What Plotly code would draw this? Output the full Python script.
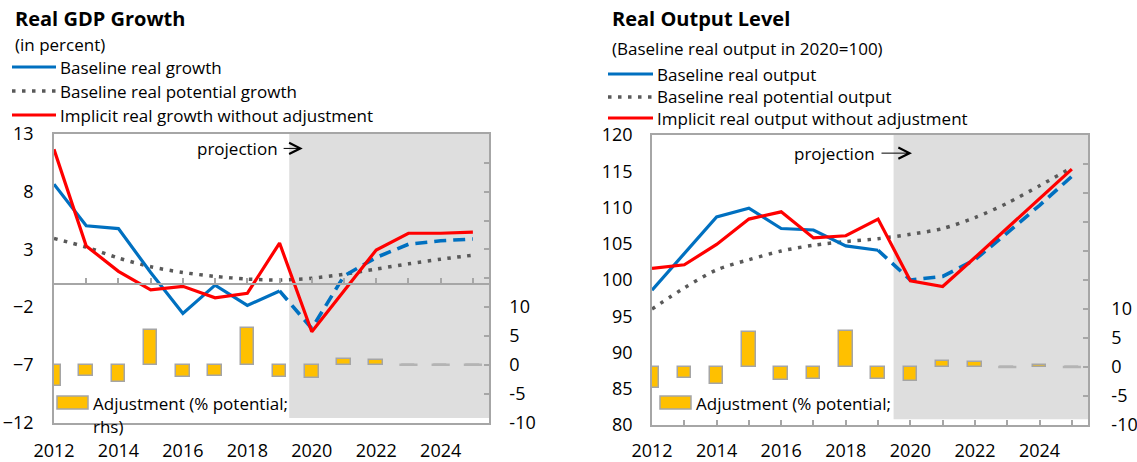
import plotly.graph_objects as go

# ---------------- data ----------------
years = list(range(2012, 2026))
hist_years = list(range(2012, 2020))
proj_years = list(range(2019, 2026))
label_years = list(range(2012, 2025, 2))

# Left chart: Real GDP growth (in percent)
growth_baseline_hist = [8.65, 5.05, 4.8, 1.0, -2.55, -0.1, -1.85, -0.6]
growth_baseline_proj = [-0.6, -3.85, 0.7, 2.3, 3.45, 3.75, 3.9]
growth_potential = [3.95, 3.2, 2.25, 1.5, 1.0, 0.66, 0.43, 0.35, 0.5, 0.85, 1.3, 1.75, 2.15, 2.5]
growth_implicit = [11.67, 3.3, 1.1, -0.5, -0.2, -1.2, -0.8, 3.55, -4.13, -0.55, 2.95, 4.4, 4.4, 4.5]
adjustment_growth = [-3.6, -2.0, -3.0, 6.0, -2.2, -1.9, 6.3, -2.2, -2.3, 1.0, 0.8, 0.0, 0.0, 0.0]

# Right chart: Real output level (baseline real output in 2020 = 100)
output_baseline_hist = [98.6, 103.7, 108.7, 109.9, 107.1, 106.9, 104.7, 104.1]
output_baseline_proj = [104.1, 100.0, 100.5, 102.8, 106.5, 110.3, 114.3]
output_potential = [96.0, 98.9, 101.4, 102.8, 104.0, 104.8, 105.3, 105.7, 106.3, 107.1, 108.6, 110.6, 113.0, 115.5]
output_implicit = [101.6, 102.1, 104.9, 108.4, 109.4, 105.8, 106.1, 108.4, 99.9, 99.1, 103.1, 107.2, 111.2, 115.3]
adjustment_level = [-3.7, -1.9, -3.0, 6.0, -2.2, -2.0, 6.2, -2.0, -2.4, 1.1, 0.8, 0.0, 0.3, 0.0]

left_ticks = [-12, -7, -2, 3, 8, 13]
right_ticks = list(range(80, 121, 5))
rhs_ticks = list(range(-10, 41, 5))
rhs_labels = [str(v) if v <= 10 else "" for v in rhs_ticks]

left_title = "Real GDP Growth"
left_sub = "(in percent)"
left_legend = ["Baseline real growth", "Baseline real potential growth",
               "Implicit real growth without adjustment"]
right_title = "Real Output Level"
right_sub = "(Baseline real output in 2020=100)"
right_legend = ["Baseline real output", "Baseline real potential output",
                "Implicit real output without adjustment"]
bar_legend = "Adjustment (% potential;"
bar_legend2 = "rhs)"

# ---------------- styles ----------------
FONT = "Open Sans"
BLUE = "#0070C0"
RED = "#FF0000"
DOTC = "#595959"
GOLD = "#FFC000"
BARLINE = "#A5A5A5"
AXC = "#A6A6A6"
SHADE = "#DEDEDE"
W, H = 1137, 462
LW = 3.2
DOT_DASH = "3.5px,6.5px"
LONG_DASH = "12px,7px"


def px(x):
    return x / W


def py(y):
    return 1 - y / H


# plot areas (pixels)
L_X0, L_X1, L_Y0, L_Y1 = 54, 489, 134, 422.5
R_X0, R_X1, R_Y0, R_Y1 = 652, 1088, 135, 425
XR = [2012, 2025.5]
LY_R = [-12, 13]
RY_R = [80, 120]
RHS_R = [-10, 40]

fig = go.Figure()


def add_chart(xa, ya, ya2, pot, bh, bp, imp, adj):
    fig.add_trace(go.Bar(x=years, y=adj, xaxis=xa, yaxis=ya2, width=0.42,
                         marker=dict(color=GOLD, line=dict(color=BARLINE, width=1.5)),
                         showlegend=False, hoverinfo="skip"))
    zx = [yr for yr, v in zip(years, adj) if v == 0]
    zy = [v for v in adj if v == 0]
    fig.add_trace(go.Scatter(x=zx, y=zy, xaxis=xa, yaxis=ya2, mode="markers",
                             marker=dict(symbol="line-ew", size=13,
                                         line=dict(color="#B4B4B4", width=2.5)),
                             showlegend=False, hoverinfo="skip"))
    fig.add_trace(go.Scatter(x=years, y=pot, xaxis=xa, yaxis=ya, mode="lines",
                             line=dict(color=DOTC, width=3.5, dash=DOT_DASH,
                                       shape="spline", smoothing=0.8),
                             showlegend=False, hoverinfo="skip"))
    fig.add_trace(go.Scatter(x=hist_years, y=bh, xaxis=xa, yaxis=ya, mode="lines",
                             line=dict(color=BLUE, width=LW), showlegend=False,
                             hoverinfo="skip"))
    fig.add_trace(go.Scatter(x=proj_years, y=bp, xaxis=xa, yaxis=ya, mode="lines",
                             line=dict(color=BLUE, width=3.6, dash=LONG_DASH),
                             showlegend=False, hoverinfo="skip"))
    fig.add_trace(go.Scatter(x=years, y=imp, xaxis=xa, yaxis=ya, mode="lines",
                             line=dict(color=RED, width=LW), showlegend=False,
                             hoverinfo="skip"))


add_chart("x", "y", "y2", growth_potential, growth_baseline_hist,
          growth_baseline_proj, growth_implicit, adjustment_growth)
add_chart("x2", "y3", "y4", output_potential, output_baseline_hist,
          output_baseline_proj, output_implicit, adjustment_level)

# invisible trace to carry the zero-line axis of the left chart
fig.add_trace(go.Scatter(x=years, y=[0] * len(years), xaxis="x3", yaxis="y",
                         mode="markers", marker=dict(opacity=0), showlegend=False,
                         hoverinfo="skip"))

ldom_y = [py(L_Y1), py(L_Y0)]
rdom_y = [py(R_Y1), py(R_Y0)]
zero_pos = ldom_y[0] + (0 - LY_R[0]) / (LY_R[1] - LY_R[0]) * (ldom_y[1] - ldom_y[0])

tickfont = dict(family=FONT, size=18, color="#000000")
common = dict(showgrid=False, zeroline=False, linecolor=AXC, linewidth=1.5,
              tickcolor=AXC, tickwidth=1.5, tickfont=tickfont, automargin=False)

fig.update_layout(
    width=W, height=H, margin=dict(l=0, r=0, t=0, b=0, autoexpand=False),
    paper_bgcolor="white", plot_bgcolor="white", showlegend=False,
    bargap=0, font=dict(family=FONT),
    xaxis=dict(domain=[px(L_X0), px(L_X1)], range=XR, anchor="y",
               tickvals=label_years, ticks="", showline=True, mirror=True,
               ticklabelstandoff=11, **common),
    xaxis3=dict(overlaying="x", anchor="free", position=zero_pos, range=XR,
                tickvals=years, ticks="inside", ticklen=5, showticklabels=False,
                showline=True, **common),
    yaxis=dict(domain=ldom_y, range=LY_R, tickvals=left_ticks, ticks="",
               showline=True, anchor="x", ticklabelstandoff=15, **common),
    yaxis2=dict(overlaying="y", side="right", anchor="x", range=RHS_R,
                tickvals=rhs_ticks, ticktext=rhs_labels, ticks="inside",
                ticklen=5, showline=True, ticklabelstandoff=15, **common),
    xaxis2=dict(domain=[px(R_X0), px(R_X1)], range=XR, anchor="y3",
                tickvals=years, ticktext=[str(y) if y % 2 == 0 else "" for y in years],
                ticks="inside", ticklen=5, showline=True, mirror=True,
                ticklabelstandoff=9, **common),
    yaxis3=dict(domain=rdom_y, range=RY_R, tickvals=right_ticks, ticks="",
                showline=True, anchor="x2", ticklabelstandoff=14, **common),
    yaxis4=dict(overlaying="y3", side="right", anchor="x2", range=RHS_R,
                tickvals=rhs_ticks, ticktext=rhs_labels, ticks="inside",
                ticklen=5, showline=True, ticklabelstandoff=18, **common),
)

# projection shading
fig.add_shape(type="rect", xref="x", yref="y", x0=2019.3, x1=XR[1], y0=-11.6, y1=LY_R[1],
              fillcolor=SHADE, line=dict(width=0), layer="below")
fig.add_shape(type="rect", xref="x2", yref="y3", x0=2019.48, x1=XR[1], y0=80.8, y1=RY_R[1],
              fillcolor=SHADE, line=dict(width=0), layer="below")

anns = []


def text(x, y, s, size=17, bold=False, xanchor="left"):
    anns.append(dict(x=px(x), y=py(y), xref="paper", yref="paper", text=(f"<b>{s}</b>" if bold else s),
                     showarrow=False, xanchor=xanchor, yanchor="middle",
                     font=dict(family=FONT, size=size, color="#000000")))


# titles
text(13, 19, left_title, size=20, bold=True)
text(13, 44, left_sub, size=17)
text(610, 19, right_title, size=20, bold=True)
text(610, 48, right_sub, size=17)

# legends
leg_styles = [dict(color=BLUE, width=LW), dict(color=DOTC, width=3.5, dash=DOT_DASH),
              dict(color=RED, width=LW)]
for (sx0, sx1, tx, rows, labels) in [(12, 56, 58, [67, 91, 115], left_legend),
                                     (608, 653, 655, [74, 97, 118], right_legend)]:
    for yy, lab, st in zip(rows, labels, leg_styles):
        fig.add_shape(type="line", xref="paper", yref="paper", x0=px(sx0), x1=px(sx1),
                      y0=py(yy), y1=py(yy), line=st)
        text(tx, yy, lab, size=17)

# bar legends
for (bx0, bx1, tx, two) in [(57, 88, 91, True), (660, 691, 694, False)]:
    fig.add_shape(type="rect", xref="paper", yref="paper", x0=px(bx0), x1=px(bx1),
                  y0=py(409), y1=py(396), fillcolor=GOLD, line=dict(color=BARLINE, width=1.5))
    text(tx, 403, bar_legend, size=17)
    if two:
        text(tx, 426, bar_legend2, size=17)

# projection labels with arrows
for xa, ya, xt, yv, xh in [("x", "y", 2019.0, 11.75, 2019.72), ("x2", "y3", 2018.98, 117.5, 2020.05)]:
    anns.append(dict(x=xt, y=yv, xref=xa, yref=ya, text="projection", showarrow=False,
                     xanchor="right", yanchor="middle", font=dict(family=FONT, size=17, color="#000")))
    anns.append(dict(x=xh, y=yv, xref=xa, yref=ya, ax=xt + 0.08, ay=yv, axref=xa, ayref=ya,
                     text="", showarrow=True, arrowhead=5, arrowsize=2.2, arrowwidth=1,
                     arrowcolor="#000"))

fig.update_layout(annotations=anns)
fig.write_html("out.html", config={"displayModeBar": False},
               post_script="document.body.style.margin='0px';")
